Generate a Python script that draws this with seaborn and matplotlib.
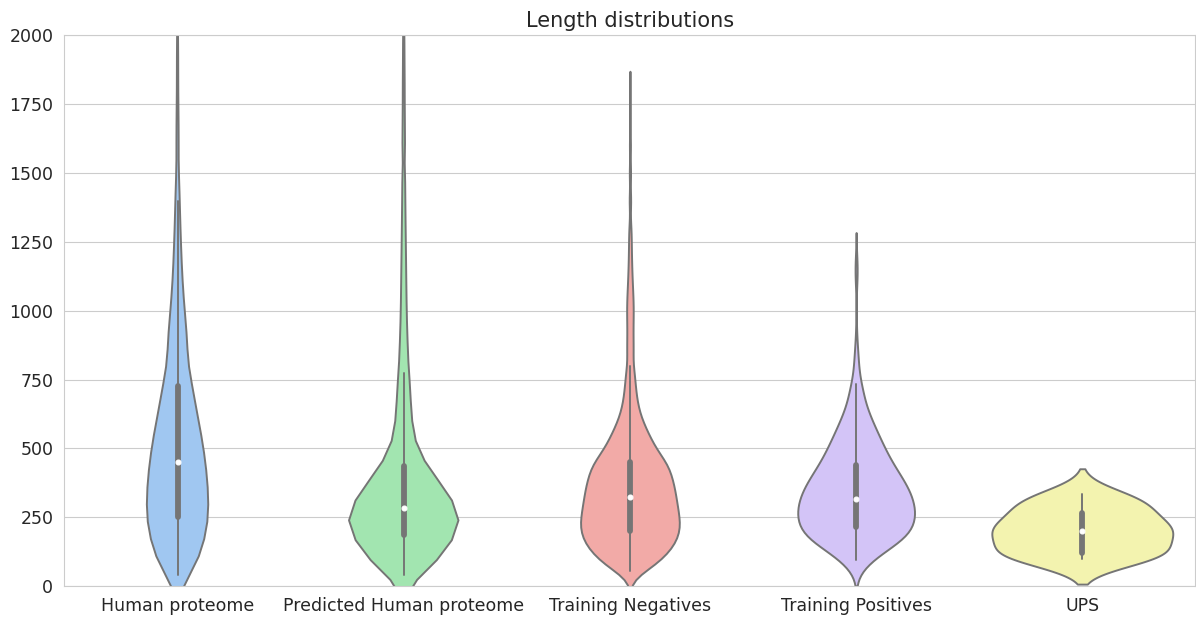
import numpy as np
import pandas as pd
import matplotlib
matplotlib.use("Agg")
import matplotlib.pyplot as plt
import seaborn as sns

# ---------------- data ----------------
categories = ["Human proteome", "Predicted Human proteome", "Training Negatives",
              "Training Positives", "UPS"]

# protein lengths (aa) and how many proteins have that length (binned)
human_len = [40, 50, 75, 100, 125, 150, 175, 200, 225, 250, 275, 300, 325, 350, 375,
             400, 425, 450, 475, 500, 525, 550, 575, 600, 625, 650, 675, 700, 725, 750,
             775, 800, 850, 900, 950, 1000, 1050, 1100, 1150, 1200, 1250, 1300, 1350,
             1400, 1450, 1500, 1600, 1700, 1800, 1900, 2000, 2250, 2500, 3000, 3500,
             4500, 6000]
human_cnt = [30, 45, 60, 65, 70, 75, 83, 89, 92, 93, 93, 93, 92, 91, 90,
             88, 86, 83, 80, 78, 75, 71, 67, 62, 58, 55, 51, 48, 44, 41,
             38, 36, 64, 58, 50, 42, 36, 30, 26, 23, 20, 17, 15,
             13, 11, 9, 14, 12, 8, 8, 6, 27, 22, 20, 14, 10, 7]

pred_len = [40, 60, 85, 110, 135, 160, 185, 210, 235, 260, 285, 310, 335, 360, 385,
            410, 435, 460, 485, 510, 535, 560, 585, 610, 635, 660, 685, 710, 735, 760,
            775, 815, 860, 910, 960, 1010, 1060, 1110, 1160, 1210, 1260, 1310, 1360,
            1410, 1460, 1510, 1610, 1710, 1810, 1910, 2010, 2300, 2700, 3200, 4000,
            5000, 7000]
pred_cnt = [70, 80, 88, 106, 124, 142, 158, 168, 170, 166, 158, 146, 132, 116, 100,
            85, 70, 55, 44, 35, 31, 28, 25, 23, 22, 21, 20, 19, 19, 18,
            8, 26, 23, 21, 19, 17, 16, 15, 14, 13, 12, 11, 10,
            9, 9, 8, 15, 13, 11, 9, 8, 8, 6, 5, 3, 2, 1]

neg_len = [55, 75, 100, 125, 150, 175, 200, 225, 250, 275, 300, 325, 350, 375, 400,
           425, 450, 475, 500, 525, 550, 575, 600, 625, 650, 675, 700, 725, 750, 775,
           800, 850, 900, 950, 1000, 1050, 1100, 1150, 1200, 1250, 1300, 1400, 1500,
           1600, 1700, 1800]
neg_cnt = [40, 70, 95, 115, 130, 140, 146, 147, 144, 140, 137, 134, 131, 127, 121,
           116, 110, 88, 75, 65, 55, 46, 36, 29, 24, 20, 18, 16, 14, 13,
           12, 20, 18, 18, 20, 18, 14, 11, 9, 8, 7, 7, 6,
           5, 4, 4]

pos_len = [95, 140, 165, 190, 215, 240, 265, 290, 315, 340, 365, 390, 415, 440, 465,
           490, 515, 540, 565, 590, 615, 640, 665, 690, 715, 735, 790, 815, 840, 870,
           900, 950, 1100, 1125, 1150, 1175, 1190]
pos_cnt = [100, 130, 160, 175, 182, 186, 188, 185, 180, 171, 161, 147, 131, 115, 104,
           93, 84, 74, 64, 54, 45, 35, 26, 22, 19, 23, 12, 8, 6, 5,
           3, 2, 3, 4, 5, 4, 2]

ups_len = [97, 101, 105, 109, 113, 117, 122, 150, 168, 181, 191, 198,
           203, 210, 218, 228, 242, 262, 278, 290, 302, 314, 325, 336]
ups_cnt = [1] * len(ups_len)

# KDE bandwidth (aa) used for each violin
bandwidths = [60, 45, 35, 47, 45]

# classic seaborn "pastel" colours
colors = ["#92C6FF", "#97F0AA", "#FF9F9A", "#D0BBFF", "#FFFEA3"]

# ---------------- build long-form table ----------------
pairs = [(human_len, human_cnt), (pred_len, pred_cnt), (neg_len, neg_cnt),
         (pos_len, pos_cnt), (ups_len, ups_cnt)]
samples = [np.repeat(np.asarray(l, float), c) for l, c in pairs]
df = pd.DataFrame({
    "category": np.concatenate([[cat] * len(s) for cat, s in zip(categories, samples)]),
    "length": np.concatenate(samples),
})

size_to_bw = {len(s): bw for s, bw in zip(samples, bandwidths)}
assert len(size_to_bw) == len(samples)


def bw_rule(kde):
    return size_to_bw[kde.n] / np.std(kde.dataset, ddof=1)


# ---------------- plot ----------------
sns.set_style("whitegrid")
plt.rcParams["font.family"] = ["DejaVu Sans"]

fig = plt.figure(figsize=(11.96, 6.17), dpi=100)
ax = fig.add_axes([0.0539, 0.0502, 0.9456, 0.8923])

sns.violinplot(data=df, x="category", y="length", hue="category",
               order=categories, hue_order=categories,
               palette=dict(zip(categories, colors)),
               legend=False, inner="box", bw_method=bw_rule, cut=2, gridsize=100,
               density_norm="area", common_norm=True, linewidth=1.4,
               inner_kws=dict(box_width=4.2, whis_width=1.4, marker="o"),
               ax=ax)

ax.set_ylim(0, 2000)
ax.set_yticks(np.arange(0, 2001, 250))
ax.set_xlabel("")
ax.set_ylabel("")
ax.set_title("Length distributions", fontsize=15, color=".15")
ax.tick_params(axis="both", labelsize=12.5, colors=".15", length=0)
ax.tick_params(axis="y", pad=8)
ax.tick_params(axis="x", pad=8)
for s in ax.spines.values():
    s.set_color(".8")

fig.savefig("out.png", dpi=100)
